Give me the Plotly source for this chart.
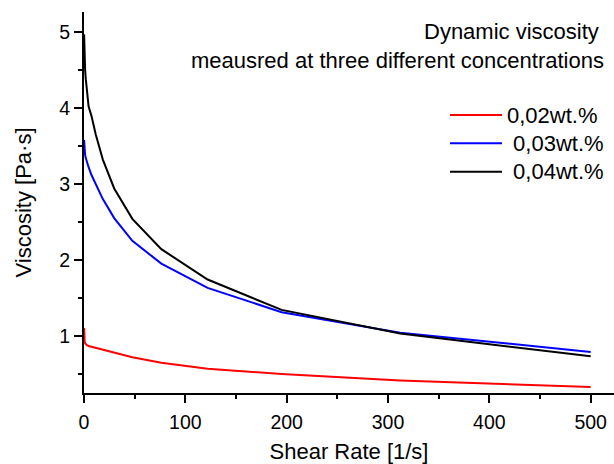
import plotly.graph_objects as go

# Data
shear_rate = [0.106, 0.17, 0.27, 0.43, 0.69, 1.11, 1.78, 2.84, 4.55, 7.28,
              11.6, 18.6, 29.8, 47.7, 76.3, 122, 195, 312, 500]
visc_002 = [1.10, 1.04, 0.99, 0.95, 0.92, 0.90, 0.885, 0.875, 0.865, 0.855,
            0.84, 0.815, 0.775, 0.715, 0.645, 0.565, 0.495, 0.41, 0.325]
visc_003 = [3.58, 3.54, 3.50, 3.46, 3.42, 3.38, 3.34, 3.29, 3.22, 3.12,
            2.99, 2.80, 2.55, 2.25, 1.95, 1.63, 1.31, 1.04, 0.785]
visc_004 = [4.97, 4.90, 4.82, 4.72, 4.62, 4.50, 4.38, 4.22, 4.02, 3.90,
            3.65, 3.32, 2.94, 2.54, 2.14, 1.74, 1.34, 1.03, 0.728]

series_names = ["0,02wt.%", "\u00a00,03wt.%", "\u00a00,04wt.%"]
series_colors = ["#ff0000", "#0000ff", "#000000"]
x_ticks = [0, 100, 200, 300, 400, 500]
y_ticks = [1, 2, 3, 4, 5]

FONT = "Liberation Sans, Arial, sans-serif"
W, H = 614, 464
ML, MR, MT, MB = 84, 0, 12, 71
PW, PH = W - ML - MR, H - MT - MB


def px_x(p):
    return (p - ML) / PW


def px_y(p):
    return 1 - (p - MT) / PH


fig = go.Figure()
for name, ys, col in zip(series_names, [visc_002, visc_003, visc_004], series_colors):
    fig.add_trace(go.Scatter(x=shear_rate, y=ys, mode="lines", name=name,
                             line=dict(color=col, width=2), showlegend=False))

axis_common = dict(
    showline=True, linecolor="black", linewidth=2, showgrid=False, zeroline=False,
    ticks="outside", ticklen=8, tickwidth=1.5, tickcolor="black",
    tickfont=dict(family=FONT, size=19.5, color="black"),
)

fig.update_xaxes(
    range=[0, 523], tickvals=x_ticks, ticktext=[str(v) for v in x_ticks],
    ticklabelstandoff=3,
    minor=dict(dtick=50, tick0=0, ticklen=4, tickwidth=1.5, tickcolor="black", ticks="outside"),
    title=dict(text="Shear Rate [1/s]", font=dict(family=FONT, size=22, color="black"), standoff=15),
    **axis_common,
)
fig.update_yaxes(
    range=[0.245, 5.265], tickvals=y_ticks, ticktext=[str(v) for v in y_ticks],
    minor=dict(dtick=0.5, tick0=0, ticklen=4, tickwidth=1.5, tickcolor="black", ticks="outside"),
    title=dict(text="Viscosity [Pa·s]", font=dict(family=FONT, size=22, color="black"), standoff=22),
    **axis_common,
)

fig.add_annotation(x=px_x(601), y=px_y(31.7), xref="paper", yref="paper",
                   text="Dynamic viscosity", showarrow=False, xanchor="right", yanchor="middle",
                   font=dict(family=FONT, size=22, color="black"))
fig.add_annotation(x=px_x(606), y=px_y(60), xref="paper", yref="paper",
                   text="meausred at three different concentrations", showarrow=False,
                   xanchor="right", yanchor="middle",
                   font=dict(family=FONT, size=22, color="black"))

# Legend (drawn manually to match the reference's row spacing)
legend_rows_px = [115, 143.3, 171.7]
for name, col, ypx in zip(series_names, series_colors, legend_rows_px):
    fig.add_shape(type="line", xref="paper", yref="paper",
                  x0=px_x(450), x1=px_x(502), y0=px_y(ypx), y1=px_y(ypx),
                  line=dict(color=col, width=2))
    fig.add_annotation(x=px_x(505), y=px_y(ypx), xref="paper", yref="paper",
                       text=name, showarrow=False, xanchor="left", yanchor="middle",
                       font=dict(family=FONT, size=22, color="black"))

fig.update_layout(
    width=W, height=H,
    margin=dict(l=ML, r=MR, t=MT, b=MB),
    paper_bgcolor="white", plot_bgcolor="white",
    font=dict(family=FONT, color="black"),
    showlegend=False,
)

fig.write_html("out.html")
